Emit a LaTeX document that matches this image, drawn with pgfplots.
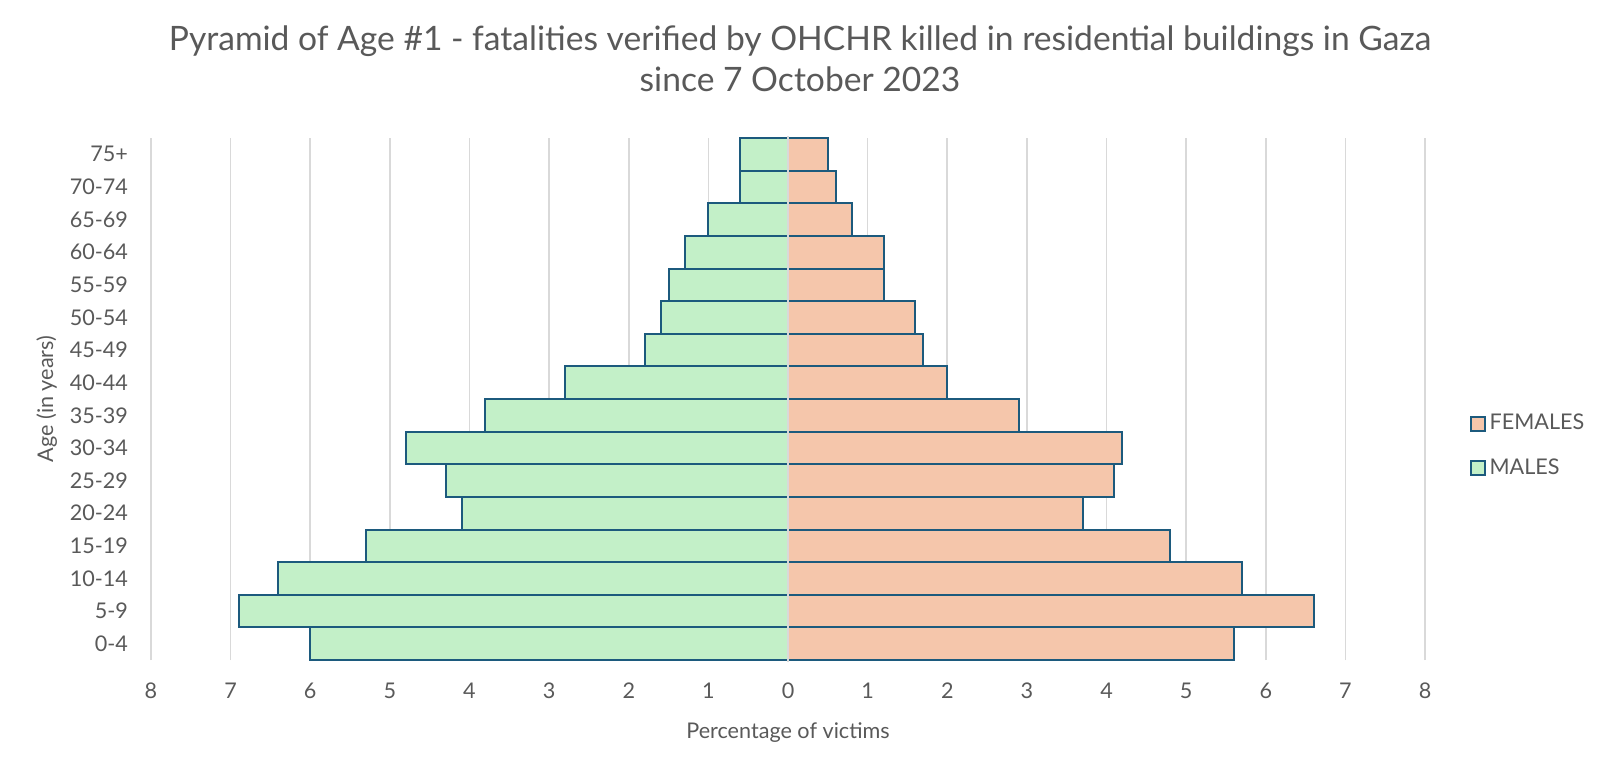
\documentclass[border=0pt]{standalone}
\usepackage{pgfplots}
\pgfplotsset{compat=1.18}
\usepackage{fontspec}
\setmainfont{Lato}

\definecolor{txtgray}{RGB}{89,89,89}
\definecolor{gridgray}{RGB}{217,217,217}
\definecolor{edgeblue}{RGB}{28,90,125}
\definecolor{malefill}{RGB}{195,240,200}
\definecolor{femalefill}{RGB}{245,198,171}

% age groups 0-4 ... 75+ at y = 0 ... 15; males stored as negative shares
\pgfplotstableread{
y  males  females
0  -6.0   5.6
1  -6.9   6.6
2  -6.4   5.7
3  -5.3   4.8
4  -4.1   3.7
5  -4.3   4.1
6  -4.8   4.2
7  -3.8   2.9
8  -2.8   2.0
9  -1.8   1.7
10 -1.6   1.6
11 -1.5   1.2
12 -1.3   1.2
13 -1.0   0.8
14 -0.6   0.6
15 -0.6   0.5
}\pyramid

\begin{document}
\begin{tikzpicture}[x=1pt,y=1pt]
\begin{axis}[
  scale only axis,
  width=637pt, height=261pt,
  xmin=-8, xmax=8, ymin=-0.5, ymax=15.5,
  xbar, bar width=1, bar shift=0,
  xtick={-8,...,8},
  xticklabels={8,7,6,5,4,3,2,1,0,1,2,3,4,5,6,7,8},
  ytick={0,...,15},
  yticklabels={0-4,5-9,10-14,15-19,20-24,25-29,30-34,35-39,40-44,45-49,50-54,55-59,60-64,65-69,70-74,75+},
  xmajorgrids, major grid style={gridgray, line width=0.8pt},
  axis line style={draw=none},
  major tick length=0pt,
  tick label style={font=\fontsize{10.8}{12}\selectfont, text=txtgray},
  /pgf/number format/assume math mode=true,
  xticklabel style={yshift=-8pt},
  yticklabel style={xshift=-8pt},
  xlabel={Percentage of victims},
  ylabel={Age (in years)},
  label style={font=\fontsize{10.8}{12}\selectfont, text=txtgray},
  xlabel style={yshift=-5pt},
  ylabel style={yshift=-0.5pt},
  legend style={at={(1.03,0.41)}, anchor=west, draw=none, fill=none,
    font=\fontsize{10.8}{12}\selectfont, text=txtgray, row sep=9pt,
    legend cell align=left},
  legend image code/.code={\draw[#1, line width=1pt] (0pt,-3.5pt) rectangle (7pt,3.5pt);},
  clip=false,
]
\addplot[fill=femalefill, draw=edgeblue, line width=1pt] table[x=females, y=y] {\pyramid};
\addlegendentry{FEMALES}
\addplot[fill=malefill, draw=edgeblue, line width=1pt] table[x=males, y=y] {\pyramid};
\addlegendentry{MALES}
% light zero line between the two halves
\addplot[sharp plot, gridgray, line width=1.2pt, forget plot] coordinates {(0,-0.55) (0,15.55)};
\end{axis}
\node[align=center, text=txtgray, font=\fontsize{16.8}{20.5}\selectfont] at (324.5,300.8)
  {Pyramid of Age \#1 - fatalities verified by OHCHR killed in residential buildings in Gaza\\since 7 October 2023};
\pgfresetboundingbox
\path[use as bounding box] (-75.5,-56.5) rectangle (724.5,330);
\end{tikzpicture}
\end{document}
